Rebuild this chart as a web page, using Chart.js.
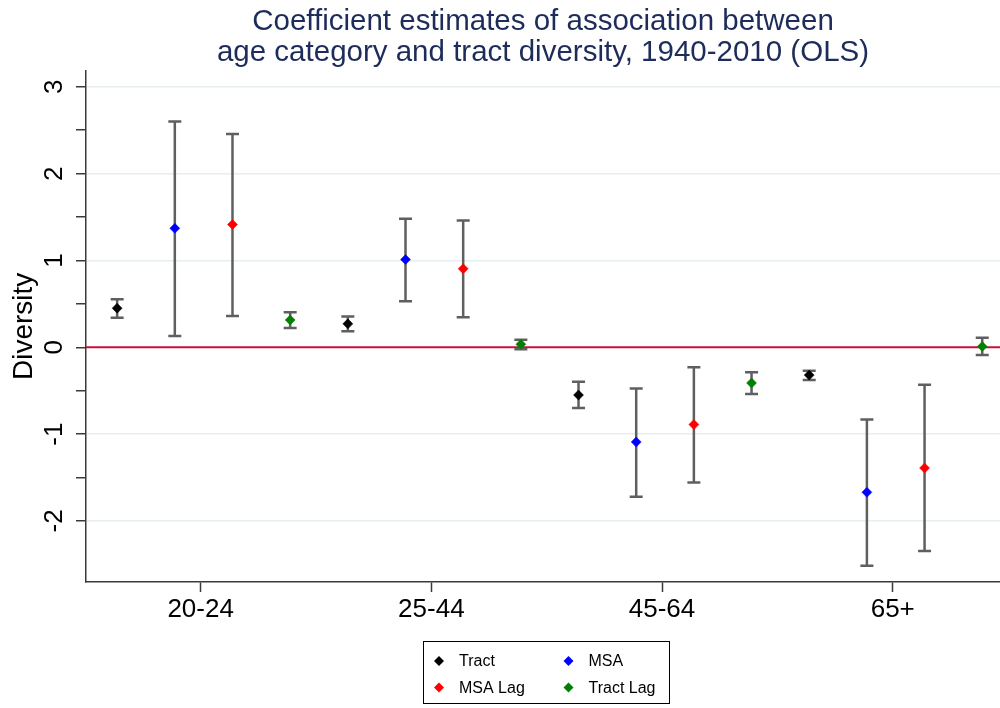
<!DOCTYPE html>
<html>
<head>
<meta charset="utf-8">
<title>Age category and tract diversity</title>
<script src="https://cdn.jsdelivr.net/npm/chart.js@4.4.1/dist/chart.umd.min.js"></script>
<style>
  html, body { margin: 0; padding: 0; background: #fff; }
  canvas { display: block; }
</style>
</head>
<body>
<canvas id="chart" width="1000" height="708"></canvas>
<script>
const categories = ['20-24', '25-44', '45-64', '65+'];

// coefficient estimates with lower / upper CI bounds, one entry per age category
const tractEst = [0.45, 0.27, -0.55, -0.32];
const tractLo = [0.34, 0.185, -0.70, -0.377];
const tractHi = [0.554, 0.354, -0.396, -0.27];

const msaEst = [1.37, 1.01, -1.09, -1.67];
const msaLo = [0.13, 0.53, -1.72, -2.515];
const msaHi = [2.60, 1.48, -0.473, -0.831];

const msaLagEst = [1.415, 0.905, -0.89, -1.39];
const msaLagLo = [0.36, 0.346, -1.558, -2.346];
const msaLagHi = [2.458, 1.46, -0.231, -0.43];

const tractLagEst = [0.315, 0.035, -0.411, 0.01];
const tractLagLo = [0.223, -0.023, -0.538, -0.09];
const tractLagHi = [0.404, 0.088, -0.288, 0.11];

const yTicks = [-2, -1, 0, 1, 2, 3];
const yMinorTicks = [-1.5, -0.5, 0.5, 1.5, 2.5];

const FONT = '"Liberation Sans", Arial, Helvetica, sans-serif';
Chart.defaults.font.family = FONT;

// each model sits at its own offset within the category
const series = [
  { label: 'Tract', color: '#000000', shift: -0.362, est: tractEst, lo: tractLo, hi: tractHi },
  { label: 'MSA', color: '#0000ff', shift: -0.112, est: msaEst, lo: msaLo, hi: msaHi },
  { label: 'MSA Lag', color: '#ff0000', shift: 0.138, est: msaLagEst, lo: msaLagLo, hi: msaLagHi },
  { label: 'Tract Lag', color: '#008000', shift: 0.388, est: tractLagEst, lo: tractLagLo, hi: tractLagHi }
];

const datasets = series.map(s => ({
  label: s.label,
  data: categories.map((c, i) => ({ x: i + 1 + s.shift, y: s.est[i] })),
  errLo: s.lo,
  errHi: s.hi,
  pointStyle: 'rectRot',
  pointRadius: 5,
  pointHoverRadius: 5,
  backgroundColor: s.color,
  borderColor: s.color,
  borderWidth: 0.5
}));

function diamond(ctx, x, y, r, color) {
  ctx.beginPath();
  ctx.moveTo(x, y - r);
  ctx.lineTo(x + r, y);
  ctx.lineTo(x, y + r);
  ctx.lineTo(x - r, y);
  ctx.closePath();
  ctx.fillStyle = color;
  ctx.fill();
}

// zero line plus CI whiskers, drawn under the markers
const errorBars = {
  id: 'errorBars',
  beforeDatasetsDraw(chart) {
    const { ctx, chartArea, scales: { x, y } } = chart;
    ctx.save();
    const y0 = y.getPixelForValue(0);
    ctx.strokeStyle = '#c4123c';
    ctx.lineWidth = 2;
    ctx.beginPath();
    ctx.moveTo(chartArea.left, y0);
    ctx.lineTo(chartArea.right, y0);
    ctx.stroke();

    ctx.strokeStyle = '#5f5f5f';
    ctx.lineWidth = 2.5;
    chart.data.datasets.forEach(ds => {
      ds.data.forEach((pt, i) => {
        const px = x.getPixelForValue(pt.x);
        const top = y.getPixelForValue(ds.errHi[i]);
        const bot = y.getPixelForValue(ds.errLo[i]);
        ctx.beginPath();
        ctx.moveTo(px, top);
        ctx.lineTo(px, bot);
        ctx.moveTo(px - 6.5, top);
        ctx.lineTo(px + 6.5, top);
        ctx.moveTo(px - 6.5, bot);
        ctx.lineTo(px + 6.5, bot);
        ctx.stroke();
      });
    });
    ctx.restore();
  }
};

// rotated y tick labels and the boxed two-column legend
const decorations = {
  id: 'decorations',
  afterDraw(chart) {
    const { ctx, scales: { y } } = chart;
    ctx.save();
    ctx.font = '26px ' + FONT;
    ctx.fillStyle = '#000';
    ctx.textAlign = 'center';
    ctx.textBaseline = 'middle';
    yTicks.forEach(v => {
      ctx.save();
      ctx.translate(y.right - 31, y.getPixelForValue(v));
      ctx.rotate(-Math.PI / 2);
      ctx.fillText(String(v), 0, 0);
      ctx.restore();
    });

    ctx.strokeStyle = '#000';
    ctx.lineWidth = 1;
    ctx.strokeRect(423.5, 641.5, 246, 62);
    ctx.font = '16px ' + FONT;
    ctx.textAlign = 'left';
    chart.data.datasets.forEach((ds, i) => {
      const col = i % 2;
      const row = Math.floor(i / 2);
      const cy = 661 + row * 26.5;
      diamond(ctx, 439 + col * 129.5, cy, 5, ds.backgroundColor);
      ctx.fillStyle = '#000';
      ctx.fillText(ds.label, 459 + col * 129.5, cy + 1);
    });
    ctx.restore();
  }
};

new Chart(document.getElementById('chart'), {
  type: 'scatter',
  data: { datasets },
  options: {
    responsive: false,
    animation: false,
    layout: { padding: 0, autoPadding: false },
    scales: {
      x: {
        type: 'linear',
        min: 0.503,
        max: 4.465,
        afterBuildTicks: s => { s.ticks = categories.map((c, i) => ({ value: i + 1 })); },
        afterFit: s => {
          s.height = 126;
          // labels sit well inside the plot, so no side padding is needed
          s.paddingLeft = 0;
          s.paddingRight = 0;
        },
        ticks: {
          callback: (v, i) => categories[i],
          font: { size: 26 },
          color: '#000',
          padding: 2,
          maxRotation: 0,
          autoSkip: false
        },
        grid: { drawOnChartArea: false, tickColor: '#3a3a3a', tickLength: 10, tickWidth: 1.5 },
        border: { color: '#3a3a3a', width: 1.5 }
      },
      y: {
        min: -2.703,
        max: 3.185,
        afterBuildTicks: s => {
          s.ticks = yTicks.concat(yMinorTicks).sort((a, b) => a - b).map(v => ({ value: v }));
        },
        afterFit: s => { s.width = 86; },
        ticks: { display: false },
        grid: {
          color: c => (Number.isInteger(c.tick.value) && c.tick.value !== 0) ? '#e6eef1' : 'rgba(0,0,0,0)',
          lineWidth: 1.5,
          tickColor: '#3a3a3a',
          tickLength: 10,
          tickWidth: 1.5
        },
        border: { color: '#3a3a3a', width: 1.5 },
        title: {
          display: true,
          text: 'Diversity',
          font: { size: 28 },
          color: '#000',
          padding: { top: 7, bottom: 0 }
        }
      }
    },
    plugins: {
      legend: { display: false },
      tooltip: { enabled: false },
      title: {
        display: true,
        fullSize: false,
        text: ['Coefficient estimates of association between', 'age category and tract diversity, 1940-2010 (OLS)'],
        font: { size: 29.5, weight: 'normal', lineHeight: 1.03 },
        color: '#1d2c5a',
        padding: { top: 7, bottom: 3 }
      }
    }
  },
  plugins: [errorBars, decorations]
});
</script>
</body>
</html>
